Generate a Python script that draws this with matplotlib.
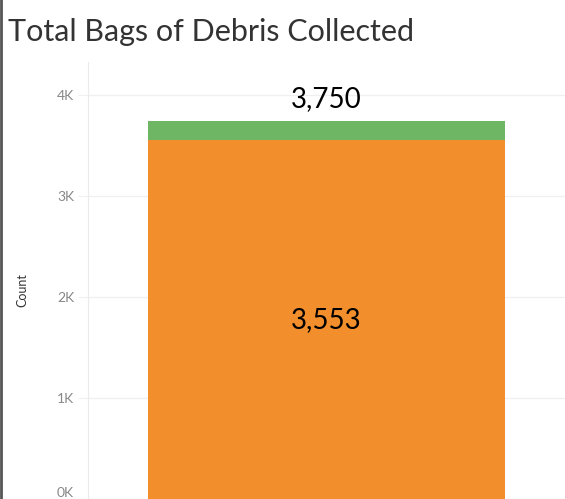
import matplotlib.pyplot as plt

# Data
categories = ['Total']
orange_vals = [3553]
green_vals = [197]
totals = [o + g for o, g in zip(orange_vals, green_vals)]
tick_vals = [0, 1000, 2000, 3000, 4000]
tick_labels = ['0K', '1K', '2K', '3K', '4K']

plt.rcParams['font.family'] = ['Lato', 'DejaVu Sans']

fig = plt.figure(figsize=(5.65, 4.99), dpi=100)
ax = fig.add_axes([88 / 565, 0, 1 - 88 / 565, 437 / 499])

ax.bar(categories, orange_vals, width=0.75, color='#f28e2b')
ax.bar(categories, green_vals, bottom=orange_vals, width=0.75, color='#6eb663')

ax.set_xlim(-0.5, 0.5)
ax.set_ylim(0, 4330)
ax.set_yticks(tick_vals)
ax.set_yticklabels(tick_labels)
ax.set_xticks([])
ax.grid(axis='y', color='#f0f0f0', linewidth=1)
ax.set_axisbelow(True)
for s in ['top', 'right', 'bottom']:
    ax.spines[s].set_visible(False)
ax.spines['left'].set_color('#ebebeb')
ax.tick_params(axis='y', colors='#f0f0f0', labelcolor='#888888',
               labelsize=10, length=7, pad=3)
ax.get_yticklabels()[0].set_va('bottom')

# Axis title
fig.text(22 / 565, 1 - 290 / 499, 'Count', rotation=90, fontsize=9,
         color='#333333', ha='center', va='center')

# Value labels
for i, c in enumerate(categories):
    ax.text(i, totals[i] + 80, f'{totals[i]:,}', ha='center', va='bottom',
            fontsize=20, color='black')
    ax.text(i, orange_vals[i] / 2, f'{orange_vals[i]:,}', ha='center',
            va='center', fontsize=20, color='black')

fig.text(8 / 565, 1 - 32 / 499, 'Total Bags of Debris Collected',
         fontsize=22, color='#333333', va='center', ha='left')

# Left border line
fig.add_artist(plt.Line2D([0.002, 0.002], [0, 1], color='#555555',
                          linewidth=2, transform=fig.transFigure))

plt.savefig('out.png', dpi=100)
